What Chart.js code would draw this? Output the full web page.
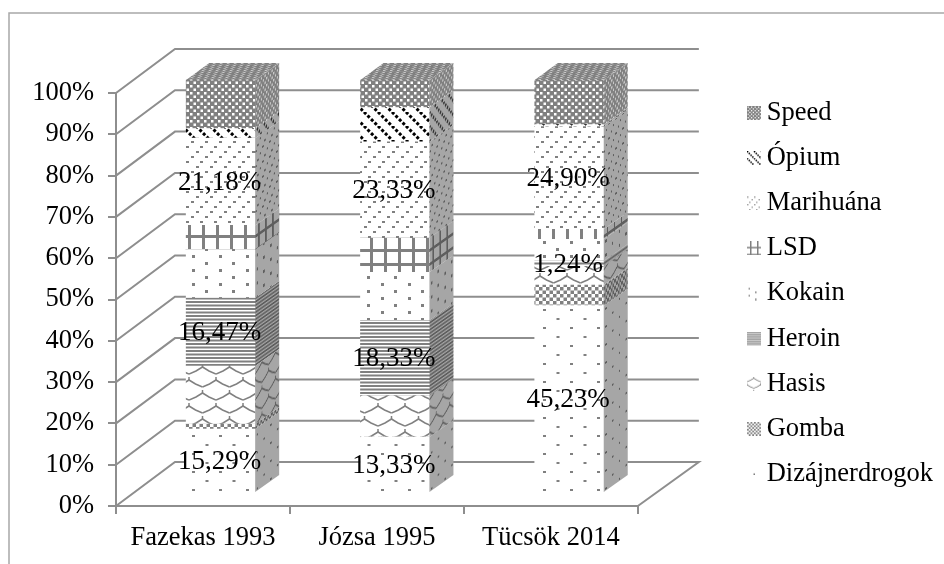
<!DOCTYPE html>
<html>
<head>
<meta charset="utf-8">
<style>html,body{margin:0;padding:0;background:#fff}canvas{display:block}</style>
<script src="https://cdn.jsdelivr.net/npm/chart.js@4"></script>
</head>
<body>
<canvas id="c" width="944" height="564"></canvas>
<script>
const categories = ['Fazekas 1993', 'Józsa 1995', 'Tücsök 2014'];
const categoryPositions = [0, 1, 2];
const dizajner = [15.29, 13.33, 45.23];
const gomba = [1.18, 0, 5.0];
const hasis = [14.12, 10.0, 4.57];
const heroin = [16.47, 18.33, 1.24];
const kokain = [11.76, 11.67, 5.3];
const lsd = [5.88, 8.33, 2.44];
const marihuana = [21.18, 23.33, 24.90];
const opium = [2.35, 8.33, 0.5];
const speed = [11.76, 6.67, 10.82];
const labelledSeries = ['Dizájnerdrogok', 'Heroin', 'Marihuána'];

const FONT = '"Liberation Serif","Times New Roman",serif';
const LINE = '#8e8e8e';
const DEPTH_X = 24, DEPTH_Y = -17;   // bar side depth
const WALL_X = 61, WALL_Y = -44;     // back wall depth

function tile(w, h, bg, draw) {
  const c = document.createElement('canvas');
  c.width = w; c.height = h;
  const g = c.getContext('2d');
  if (bg) { g.fillStyle = bg; g.fillRect(0, 0, w, h); }
  draw(g, w, h);
  return c;
}
const painters = {
  speed: (fg) => (g) => {
    g.fillStyle = '#808080'; g.fillRect(0, 0, 7, 7);
    g.fillStyle = fg === '#808080' ? '#ffffff' : '#c8c8c8';
    g.fillRect(1, 1, 2.5, 2.5); g.fillRect(4.5, 4.5, 2.5, 2.5);
  },
  opium: (fg) => (g) => {
    g.strokeStyle = fg === '#808080' ? '#000' : '#333'; g.lineWidth = 3;
    g.setLineDash([3, 2]);
    for (let k = -14; k <= 14; k += 14) {
      g.beginPath(); g.moveTo(k, 0); g.lineTo(k + 14, 14); g.stroke();
    }
  },
  marihuana: (fg) => (g) => {
    g.fillStyle = fg;
    [[0,1],[9,6],[4,11]].forEach(p => g.fillRect(p[0], p[1], 3, 2));
  },
  lsd: (fg) => (g) => {
    g.fillStyle = fg;
    g.fillRect(6, 0, 3, 14); g.fillRect(0, 11, 14, 3);
  },
  lsdBars: (fg) => (g) => {
    g.fillStyle = fg;
    g.fillRect(6, 0, 3, 14);
  },
  kokain: (fg) => (g) => {
    g.fillStyle = fg;
    g.fillRect(3, 3, 3, 3); g.fillRect(16, 10, 3, 3);
  },
  heroin: (fg) => (g) => {
    g.fillStyle = fg;
    g.fillRect(0, 0, 7, 2); g.fillRect(0, 3.5, 7, 2);
  },
  hasis: (fg) => (g) => {
    g.strokeStyle = fg; g.lineWidth = 1.5;
    const wave = (dx, dy) => {
      g.beginPath();
      g.moveTo(dx, dy + 10); g.lineTo(dx + 7, dy + 7); g.lineTo(dx + 13.5, dy + 3);
      g.lineTo(dx + 20, dy + 7); g.lineTo(dx + 27, dy + 10); g.stroke();
      g.beginPath(); g.moveTo(dx + 13.5, dy); g.lineTo(dx + 13.5, dy + 4); g.stroke();
    };
    wave(0, 0); wave(-13.5, 13); wave(13.5, 13);
  },
  gomba: (fg) => (g) => {
    g.fillStyle = fg;
    g.fillRect(0, 0, 3.5, 3.5); g.fillRect(3.5, 3.5, 3.5, 3.5);
  },
  dizajner: (fg) => (g) => {
    g.fillStyle = fg;
    g.fillRect(3, 3, 3, 2); g.fillRect(16.5, 12, 3, 2);
  }
};
const sizes = {speed:[7,7],opium:[14,14],marihuana:[14,15],lsd:[14,14],lsdBars:[14,14],kokain:[27,14],heroin:[7,7],hasis:[27,26],gomba:[7,7],dizajner:[27,18]};
const ctx0 = document.getElementById('c').getContext('2d');
function makePattern(key, fg, bg) {
  const s = sizes[key];
  return ctx0.createPattern(tile(s[0], s[1], bg, painters[key](fg)), 'repeat');
}
const frontPat = {}, sidePat = {};
Object.keys(painters).forEach(k => {
  frontPat[k] = makePattern(k, '#808080', '#ffffff');
  sidePat[k] = makePattern(k, '#5e5e5e', '#a6a6a6');
});
function swatch(key) {
  // 22 wide: the visible 14px square sits on the right, so it lines up with the legend text
  return tile(22, 14, null, (g) => {
    g.translate(8, 0);
    g.scale(0.5, 0.5);
    g.fillStyle = frontPat[key];
    if (key === 'dizajner') { g.fillStyle = '#777'; g.fillRect(13, 13, 3, 3); return; }
    g.fillRect(0, 0, 28, 28);
  });
}

const seriesDefs = [
  ['Dizájnerdrogok', dizajner, 'dizajner'],
  ['Gomba', gomba, 'gomba'],
  ['Hasis', hasis, 'hasis'],
  ['Heroin', heroin, 'heroin'],
  ['Kokain', kokain, 'kokain'],
  ['LSD', lsd, 'lsd'],
  ['Marihuána', marihuana, 'marihuana'],
  ['Ópium', opium, 'opium'],
  ['Speed', speed, 'speed']
];
const datasets = seriesDefs.map(d => ({
  label: d[0],
  key: d[2],
  data: d[1].map((v, i) => ({x: categoryPositions[i], y: v})),
  xAxisID: 'xBars',
  yAxisID: 'yBars',
  backgroundColor: d[2] === 'lsd' ? [frontPat.lsd, frontPat.lsd, frontPat.lsdBars] : frontPat[d[2]],
  borderWidth: 0,
  barThickness: 69,
  clip: false,
  pointStyle: swatch(d[2])
}));

const walls = {
  id: 'walls',
  beforeDatasetsDraw(chart) {
    const c = chart.ctx, y = chart.scales.y, x = chart.scales.x;
    const L = x.left, R = x.right;
    c.save();
    c.strokeStyle = LINE; c.lineWidth = 2; c.lineJoin = 'miter';
    y.ticks.forEach(t => {
      const py = y.getPixelForValue(t.value);
      c.beginPath();
      c.moveTo(L, py);
      c.lineTo(L + 59, py + WALL_Y);
      c.lineTo(R + WALL_X, py + WALL_Y);
      if (t.value === 0) c.lineTo(R, py);
      c.stroke();
    });
    c.restore();
  },
  afterDatasetsDraw(chart) {
    const c = chart.ctx;
    const metas = chart.getSortedVisibleDatasetMetas();
    metas.forEach(meta => {
      const key = chart.data.datasets[meta.index].key;
      meta.data.forEach(el => {
        const p = el.getProps(['x', 'y', 'base', 'width'], true);
        if (Math.abs(p.base - p.y) < 0.01) return;
        const r = p.x + p.width / 2;
        c.save();
        c.beginPath();
        c.moveTo(r, p.y);
        c.lineTo(r + DEPTH_X, p.y + DEPTH_Y);
        c.lineTo(r + DEPTH_X, p.base + DEPTH_Y);
        c.lineTo(r, p.base);
        c.closePath();
        c.clip();
        c.transform(0.5, DEPTH_Y / DEPTH_X * 0.5, 0, 1, r, 0);
        c.fillStyle = sidePat[key];
        c.fillRect(-2, -100, 60, 800);
        c.restore();
      });
    });
    const top = metas[metas.length - 1];
    top.data.forEach(el => {
      const p = el.getProps(['x', 'y', 'base', 'width'], true);
      const l = p.x - p.width / 2, r = p.x + p.width / 2;
      c.save();
      c.beginPath();
      c.moveTo(l, p.y);
      c.lineTo(l + DEPTH_X - 1, p.y + DEPTH_Y);
      c.lineTo(r + DEPTH_X, p.y + DEPTH_Y);
      c.lineTo(r, p.y);
      c.closePath();
      c.clip();
      c.transform(1, 0, -DEPTH_X / DEPTH_Y * 0.5, 0.5, l, p.y);
      c.fillStyle = sidePat.speed;
      c.fillRect(-80, -60, 300, 80);
      c.restore();
    });
    c.save();
    c.fillStyle = '#000';
    c.font = '27px ' + FONT;
    c.textAlign = 'center';
    c.textBaseline = 'middle';
    metas.forEach(meta => {
      const ds = chart.data.datasets[meta.index];
      if (!labelledSeries.includes(ds.label)) return;
      meta.data.forEach((el, i) => {
        const p = el.getProps(['x', 'y', 'base'], true);
        const txt = ds.data[i].y.toFixed(2).replace('.', ',') + '%';
        c.fillText(txt, p.x - 1, (p.y + p.base) / 2 + 1);
      });
    });
    c.restore();
  }
};
const frame = {
  id: 'frame',
  beforeDraw(chart) {
    const c = chart.ctx;
    c.save();
    c.strokeStyle = '#a8a8a8'; c.lineWidth = 1.5;
    c.beginPath();
    c.moveTo(9, 564); c.lineTo(9, 13); c.lineTo(944, 13);
    c.stroke();
    c.restore();
  }
};

new Chart(document.getElementById('c'), {
  type: 'bar',
  data: { labels: categories, datasets },
  plugins: [frame, walls],
  options: {
    responsive: false,
    animation: false,
    events: [],
    layout: { padding: { top: 23, left: 0, right: 1, bottom: 0 } },
    plugins: {
      tooltip: { enabled: false },
      title: { display: false },
      legend: {
        position: 'right',
        reverse: true,
        maxWidth: 240,
        labels: {
          usePointStyle: true,
          boxWidth: 7,
          boxHeight: 7,
          padding: 18.6,
          color: '#000',
          font: { family: FONT, size: 26.5 },
          generateLabels(chart) {
            return Chart.defaults.plugins.legend.labels.generateLabels(chart).map(it => {
              it.pointStyle = chart.data.datasets[it.datasetIndex].pointStyle;
              return it;
            });
          }
        }
      }
    },
    scales: {
      x: {
        type: 'category',
        position: 'bottom',
        offset: true,
        grid: { offset: true, drawOnChartArea: false, drawTicks: true, tickLength: 8, color: LINE, lineWidth: 2 },
        border: { display: true, color: LINE, width: 2 },
        ticks: { color: '#000', font: { family: FONT, size: 26.5 }, padding: 8, maxRotation: 0 },
        afterFit(s) { s.height = 58; }
      },
      y: {
        type: 'linear',
        position: 'left',
        min: 0, max: 100,
        grid: { drawOnChartArea: false, drawTicks: true, tickLength: 8, color: LINE, lineWidth: 2 },
        border: { display: true, color: LINE, width: 2 },
        ticks: { stepSize: 10, color: '#000', font: { family: FONT, size: 26.5 }, padding: 14, callback: v => v + '%' },
        afterFit(s) { s.width = 116; }
      },
      xBars: {
        axis: 'x', type: 'linear', display: false, stacked: true, offset: false,
        min: -0.6006, max: 2.3937
      },
      yBars: {
        axis: 'y', type: 'linear', display: false, stacked: true,
        min: -3.398, max: 96.845
      },
      topSpacer: {
        axis: 'x', type: 'linear', position: 'top', display: true,
        grid: { display: false }, border: { display: false }, ticks: { display: false },
        afterFit(s) { s.height = 70; }
      },
      rightSpacer: {
        axis: 'y', type: 'linear', position: 'right', display: true,
        grid: { display: false }, border: { display: false }, ticks: { display: false },
        afterFit(s) { s.width = 90; }
      }
    }
  }
});
</script>
</body>
</html>
